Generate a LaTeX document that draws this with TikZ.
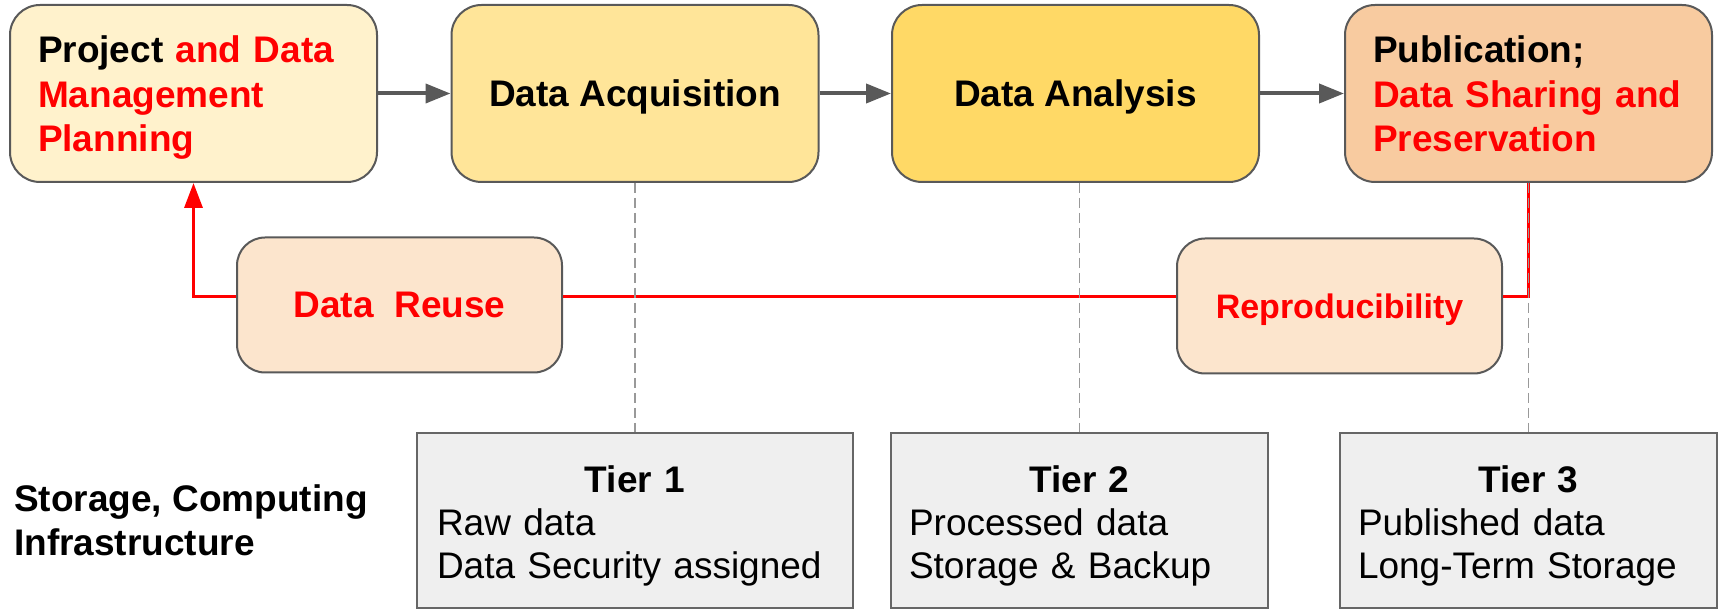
\documentclass[tikz,border=0pt]{standalone}
\usepackage{fontspec}
\setmainfont{Liberation Sans}
\usetikzlibrary{arrows.meta}
\definecolor{edge}{HTML}{595959}
\definecolor{c1}{HTML}{FFF2CC}
\definecolor{c2}{HTML}{FFE599}
\definecolor{c3}{HTML}{FFD966}
\definecolor{c4}{HTML}{F8CBA0}
\definecolor{c5}{HTML}{FCE5CD}
\definecolor{tierfill}{HTML}{EFEFEF}
\definecolor{tieredge}{HTML}{666666}
\definecolor{dashgray}{HTML}{999999}
\definecolor{hl}{HTML}{FF0000}
\begin{document}
\begin{tikzpicture}[x=1pt,y=-1pt,
  stage/.style={draw=edge, line width=2pt, rounded corners=30pt,
    minimum width=367pt, minimum height=177pt, inner sep=0pt,
    text depth=0pt, font=\fontsize{37}{44.5}\selectfont\bfseries},
  multi/.style={text width=311pt, align=left, text height=27pt, text depth=88pt},
  loopbox/.style={draw=edge, line width=2pt, rounded corners=28pt, fill=c5,
    minimum width=325pt, minimum height=135pt, inner sep=0pt,
    text depth=0pt, text=hl, font=\fontsize{37}{44}\selectfont\bfseries},
  tier/.style={draw=tieredge, line width=2pt, fill=tierfill,
    minimum height=175pt, inner sep=0pt, align=left,
    text height=27pt, text depth=84pt, font=\fontsize{37}{43}\selectfont},
  flow/.style={draw=edge, line width=4pt, -{Triangle[length=25pt,width=19pt]}},
  fb/.style={draw=hl, line width=3.3pt},
  guide/.style={draw=dashgray, line width=1.6pt, dash pattern=on 10pt off 5pt}]
\useasboundingbox (0,0) rectangle (1719,609);

% top stages
\node[stage, fill=c1, multi] (box1) at (193.5,93.5)
  {Project \textcolor{hl}{and Data}\\\textcolor{hl}{Management}\\\textcolor{hl}{Planning}};
\node[stage, fill=c2] (box2) at (635,93.5) {Data Acquisition};
\node[stage, fill=c3] (box3) at (1075.5,93.5) {Data Analysis};
\node[stage, fill=c4, multi] (box4) at (1528.5,93.5)
  {Publication;\\\textcolor{hl}{Data Sharing and}\\\textcolor{hl}{Preservation}};

% loop boxes
\node[loopbox] (reuse) at (399.5,305) {Data\ \ Reuse};
\node[loopbox, font=\fontsize{34}{40}\selectfont\bfseries] (repro) at (1339.5,306) {Reproducibility};

% tiers
\node[tier, minimum width=436pt, text width=396pt] (tier1) at (635,520.5)
  {\makebox[396pt]{\bfseries Tier 1}\\Raw data\\Data Security assigned};
\node[tier, minimum width=377pt, text width=341pt] (tier2) at (1079.5,520.5)
  {\makebox[341pt]{\bfseries Tier 2}\\Processed data\\Storage \& Backup};
\node[tier, minimum width=377pt, text width=341pt] (tier3) at (1528.5,520.5)
  {\makebox[341pt]{\bfseries Tier 3}\\Published data\\Long-Term Storage};

\node[anchor=west, inner sep=0pt, align=left, text depth=0pt,
  font=\fontsize{37}{44}\selectfont\bfseries] (infra) at (14,520)
  {Storage, Computing\\Infrastructure};

% flow arrows
\draw[flow] (box1) -- (box2);
\draw[flow] (box2) -- (box3);
\draw[flow] (box3) -- (box4);

% feedback loop
\coordinate (fy) at (0,296.5);
\draw[fb] (box4.south) |- (repro.east |- fy);
\draw[fb] (repro.west |- fy) -- (reuse.east |- fy);
\draw[fb, -{Triangle[length=25pt,width=18pt]}] (reuse.west |- fy) -| (box1.south);

% guides to tiers
\draw[guide] (box2.south) -- (tier1.north);
\draw[guide] (tier2.north |- box3.south) -- (tier2.north);
\draw[guide] (box4.south) -- (tier3.north);
\end{tikzpicture}
\end{document}
